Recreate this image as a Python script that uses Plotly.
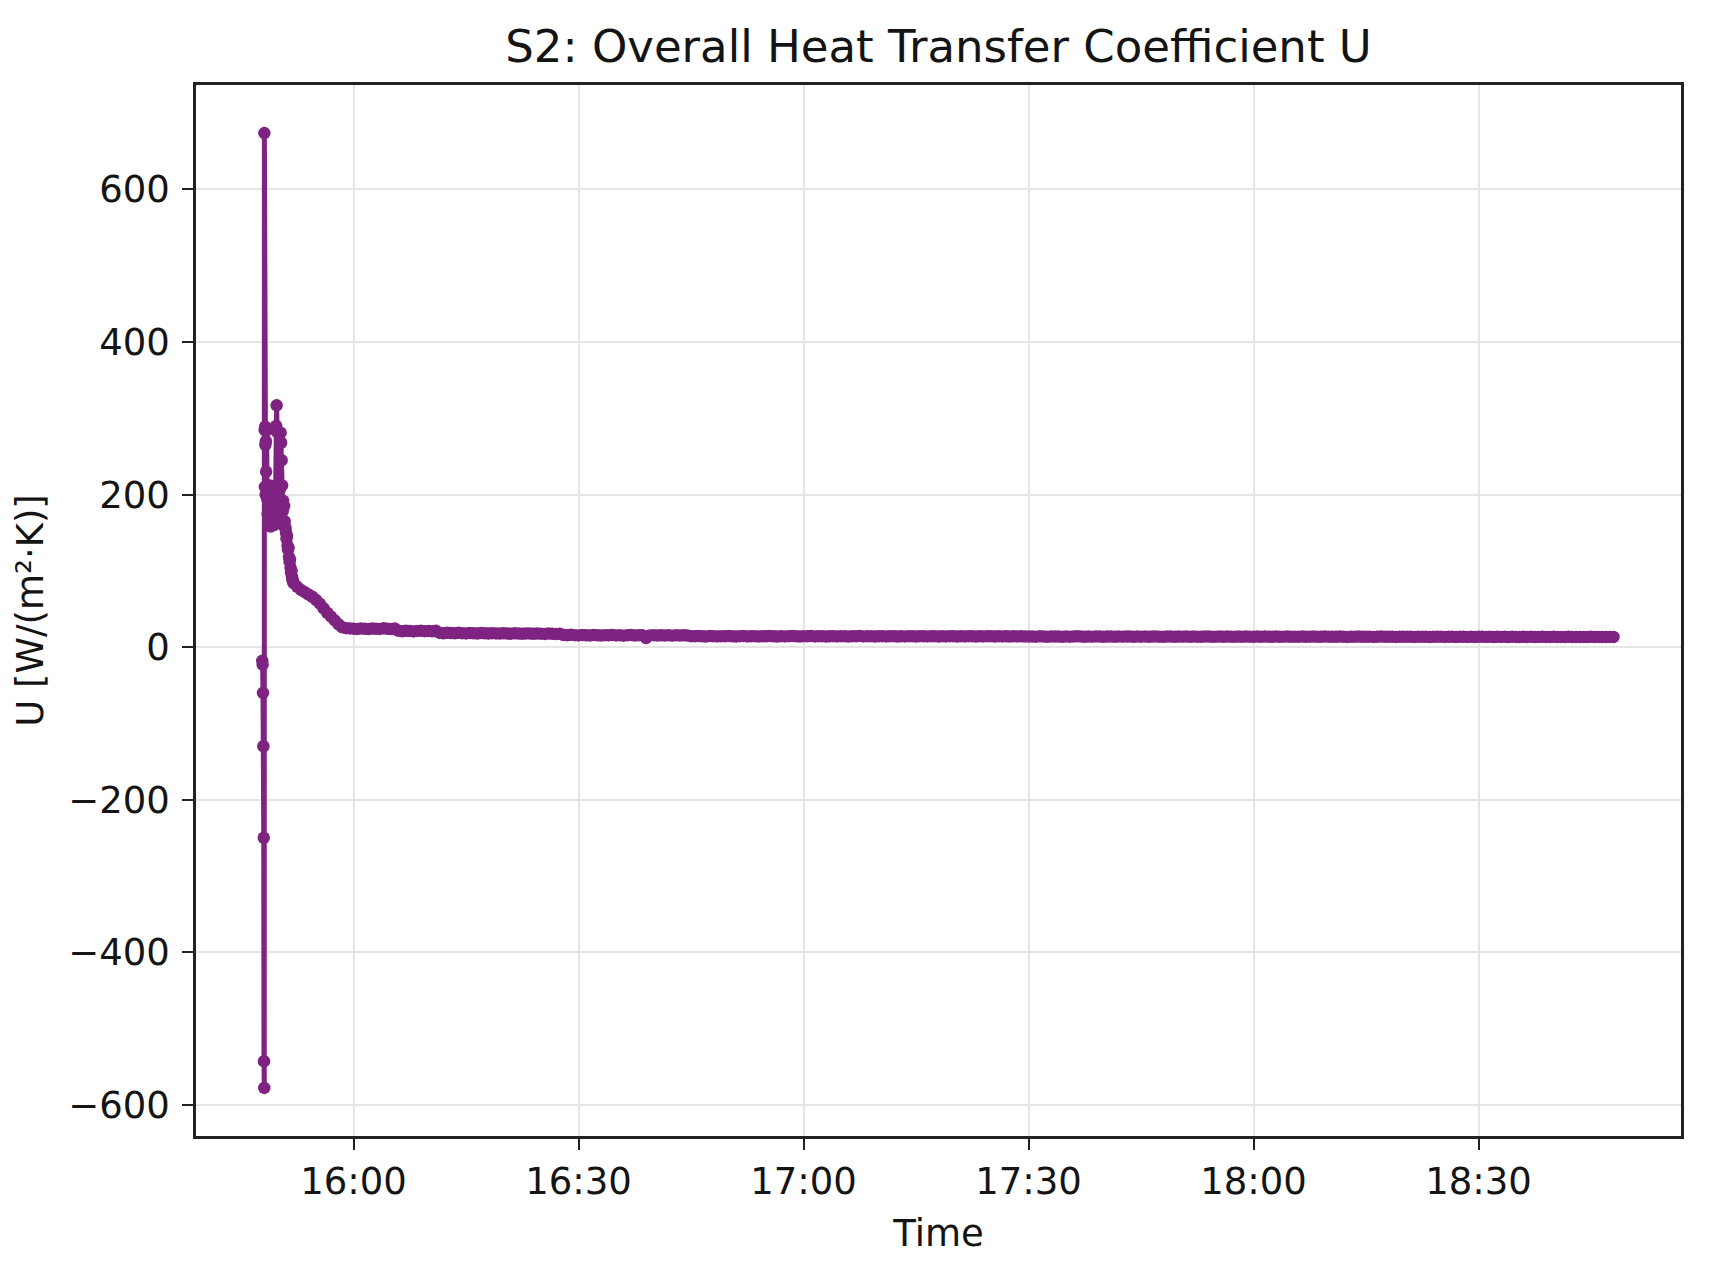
import pandas as pd
import plotly.graph_objects as go

DAY = "2024-01-01"

# ---- start-up transient: seconds after 15:47:50 and U values [W/(m²·K)]
transient_seconds = [0, 3, 6, 9, 12, 14, 16, 17, 19, 21, 23, 25, 27, 29, 31, 35, 39, 43, 47, 51,
                     55, 59, 63, 67, 71, 75, 79, 83, 87, 91, 95, 99, 103, 107, 111, 115, 119, 123,
                     127, 131, 135, 139, 143, 147, 151, 155, 159, 163, 167, 171, 175, 179, 183, 186,
                     190, 194, 198, 202, 206, 210, 214, 218, 222, 226, 230, 234, 238, 242, 246]
transient_u = [-18, -23, -60, -130, -250, -543, -578, 674, 285, 210, 289, 265, 200, 270, 230, 284,
               195, 175, 205, 160, 190, 170, 212, 158, 185, 200, 165, 192, 175, 208, 160, 195, 172,
               205, 290, 317, 282, 205, 165, 190, 172, 206, 168, 281, 268, 245, 212, 178, 192, 160,
               185, 165, 158, 155,
               150, 142, 146, 133, 128, 130, 118, 112, 115, 104, 98, 100, 92, 88, 86]

# ---- regular 30 s samples from 15:52:00 to 18:48:00
decay_u = [84, 79, 75, 72, 69, 66, 62, 57, 51, 45, 40, 35, 30, 26, 24.8, 24.5]
plateau_1600 = [24.2, 23.8, 24.5, 24.0, 23.6, 24.4, 24.1, 23.9, 24.6, 24.0, 23.7, 24.3]
plateau_1606 = [21.3, 20.8, 21.5, 21.0, 20.6, 21.2, 21.4, 20.9, 21.1, 20.7, 21.3]
plateau_1611 = [18.6, 18.2, 18.9, 18.4, 18.1, 18.7, 18.3, 18.0, 18.5, 18.2, 17.9, 18.4, 18.1,
                17.8, 18.3, 18.0, 17.7, 18.2, 17.9, 17.6, 18.1, 17.8, 17.5, 18.0, 17.7, 17.4,
                17.9, 17.6, 17.3, 17.8, 17.5, 17.2, 17.6]
plateau_1628 = [15.9, 15.5, 16.1, 15.7, 15.3, 15.8, 15.6, 15.2, 15.9, 15.5, 15.1, 15.7, 15.4,
                15.8, 15.3, 15.6, 15.0, 15.5, 15.8, 15.2, 15.6, 15.4, 12.0, 15.3, 15.7, 15.1,
                15.5, 15.2, 15.6, 15.0, 15.4, 15.1, 15.5, 15.2]
plateau_1645 = [14.4, 14.1, 14.6, 14.2, 13.9, 14.5, 14.3, 14.0, 14.4, 14.2,
                14.6, 14.1, 13.9, 14.3, 14.5, 14.0, 14.2, 14.4, 13.8, 14.3,
                14.1, 14.5, 14.2, 13.9, 14.4, 14.0, 14.3, 14.6, 14.1, 13.9,
                14.3, 14.2, 14.5, 14.0, 14.1, 14.4, 13.8, 14.2, 14.3, 14.0,
                14.4, 14.1, 13.9, 14.3, 14.2, 14.5, 14.0, 14.1, 14.3, 13.9,
                14.2, 14.4, 14.0, 14.1, 14.3, 13.8, 14.2, 14.0, 14.4, 14.1,
                13.9, 14.3, 14.2, 14.0, 14.1, 14.4, 13.9, 14.2, 14.0, 14.3,
                14.1, 13.8, 14.2, 14.0, 14.3, 14.1, 13.9, 14.2, 14.0, 14.1,
                14.3, 13.9, 14.1, 14.0, 14.2, 13.8, 14.1, 14.0, 14.2, 13.9,
                14.0]
plateau_1730 = [13.9, 13.7, 14.1, 13.8, 13.6, 14.0, 13.8, 13.9, 13.6, 14.0,
                13.7, 13.9, 14.1, 13.8, 13.6, 13.9, 13.7, 14.0, 13.8, 13.6,
                13.9, 13.8, 13.6, 14.0, 13.7, 13.9, 13.8, 13.5, 13.9, 13.7,
                14.0, 13.6, 13.8, 13.9, 13.7, 13.5, 13.9, 13.8, 13.6, 13.9,
                13.7, 13.8, 13.5, 13.9, 13.7, 13.6, 13.9, 13.8, 13.5, 13.7,
                13.9, 13.6, 13.8, 13.7, 13.5, 13.9, 13.6, 13.8, 13.7, 13.5,
                13.8, 13.6, 13.9, 13.7, 13.5, 13.8, 13.6, 13.7, 13.9, 13.5,
                13.7, 13.6, 13.8, 13.5, 13.7, 13.9, 13.6, 13.5, 13.8, 13.7,
                13.5, 13.6, 13.8, 13.6, 13.4, 13.7, 13.6, 13.8, 13.5, 13.6,
                13.7, 13.4, 13.6, 13.8, 13.5, 13.6, 13.7, 13.4, 13.6, 13.5,
                13.7, 13.5, 13.4, 13.7, 13.6, 13.5, 13.3, 13.6, 13.5, 13.7,
                13.4, 13.5, 13.6, 13.3, 13.5, 13.6, 13.4, 13.5, 13.3, 13.6,
                13.5, 13.4, 13.6, 13.3, 13.5, 13.4, 13.6, 13.3, 13.5, 13.4,
                13.3, 13.5, 13.4, 13.6, 13.3, 13.4, 13.5, 13.2, 13.4, 13.5,
                13.3, 13.4, 13.2, 13.5, 13.3, 13.4, 13.2, 13.4, 13.3, 13.5,
                13.2, 13.4, 13.3, 13.2, 13.4, 13.3]

regular_u = (decay_u + plateau_1600 + plateau_1606 + plateau_1611 +
             plateau_1628 + plateau_1645 + plateau_1730)

transient_t = [pd.Timestamp(f"{DAY} 15:47:50") + pd.Timedelta(seconds=s) for s in transient_seconds]
regular_t = list(pd.date_range(f"{DAY} 15:52:00", periods=len(regular_u), freq="30s"))

time = transient_t + regular_t
u_val = transient_u + regular_u

y_ticks = [-600, -400, -200, 0, 200, 400, 600]
y_tick_text = ["\u2212600", "\u2212400", "\u2212200", "0", "200", "400", "600"]

COLOR = "#7E2381"
FONT = "DejaVu Sans"
TXT = "#141414"

fig = go.Figure()
fig.add_trace(go.Scatter(
    x=time, y=u_val, mode="lines+markers",
    line=dict(color=COLOR, width=5),
    marker=dict(color=COLOR, size=12.5),
    showlegend=False,
))

axis_common = dict(
    showline=True, mirror=True, linecolor="#222222", linewidth=2.5,
    ticks="outside", ticklen=11, tickwidth=2, tickcolor="#222222",
    showgrid=True, gridcolor="#e6e6e6", gridwidth=2, zeroline=False,
    tickfont=dict(family=FONT, size=37, color=TXT),
)

fig.update_layout(
    width=1710, height=1279,
    margin=dict(l=196, r=29, t=85, b=143),
    paper_bgcolor="white", plot_bgcolor="white",
    font=dict(family=FONT, color=TXT),
    title=dict(text="S2: Overall Heat Transfer Coefficient U",
               font=dict(family=FONT, size=45, color=TXT),
               x=0.5, xref="paper", xanchor="center",
               y=1 - 46 / 1279, yref="container", yanchor="middle"),
    xaxis=dict(
        type="date",
        range=[f"{DAY} 15:39:00", f"{DAY} 18:57:00"],
        tick0=f"{DAY} 16:00:00", dtick=30 * 60 * 1000, tickformat="%H:%M",
        title=dict(text="Time", font=dict(family=FONT, size=37, color=TXT), standoff=18),
        **axis_common,
    ),
    yaxis=dict(
        range=[-641, 737],
        tickvals=y_ticks, ticktext=y_tick_text,
        ticklabelstandoff=5,
        title=dict(text="U [W/(m²·K)]", font=dict(family=FONT, size=37, color=TXT), standoff=14),
        **axis_common,
    ),
)

fig.write_html("out.html")
